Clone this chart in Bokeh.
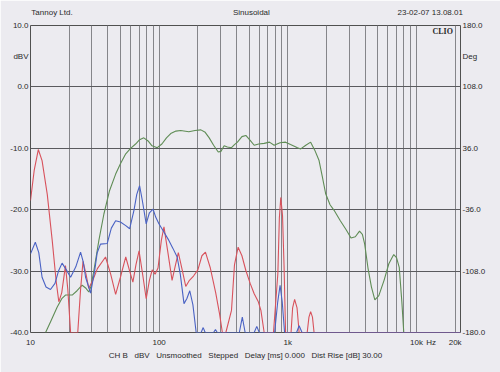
from bokeh.plotting import figure
from bokeh.models import (Range1d, LinearAxis, LogAxis, FixedTicker,
                          Label, ColumnDataSource)
from bokeh.embed import file_html
from bokeh.resources import INLINE

# ---------------- data ----------------
red_freq = [10, 10.7, 11.5, 12.3, 13.5, 14.75, 15.8, 16.6, 17.5, 18.7, 19.5, 20.5,
            23.3, 24.5, 25.6, 27.0, 28.4, 30.5, 33.1, 38.3, 42, 45.9, 50, 55, 59,
            62.5, 66, 69.8, 75, 79.3, 84, 88.3, 93, 98, 104, 109, 117, 126, 134,
            141, 150, 161, 172, 185, 200, 215, 229, 250, 275, 295, 310, 330, 365,
            385, 411, 440, 472, 510, 548, 590, 618, 655, 774, 837, 860, 882, 910,
            935, 961, 1060, 1090, 1130, 1180, 1225, 1415, 1460, 1505, 1555, 1600,
            22000]
red_dbv = [-18.5, -13.5, -10.2, -12.0, -17.5, -25.0, -31.5, -35.0, -33.5, -29.1, -33.0, -40,
           -40, -33, -28.4, -30.5, -32.8, -31.5, -29.6, -27.7, -30.5, -33.8, -31, -27.7, -30,
           -31.8, -29, -26.7, -31, -34.5, -31.5, -29.8, -30.5, -29.5, -25, -22.8, -27, -31.5, -29,
           -27.0, -29.5, -32.5, -31.5, -30.8, -29.8, -27.5, -26.9, -29.5, -33.5, -37, -40, -40, -36.4,
           -29, -26.1, -27.5, -29.9, -32, -33.7, -35, -36.4, -40, -40, -30.4, -21.3, -18.0, -21.0,
           -29.1, -40, -40, -36, -34.6, -36, -40, -40, -37.5, -36.6, -37.5, -40,
           -40]

blue_freq = [10, 10.9, 11.6, 12.3, 13.2, 14.3, 15.5, 16.5, 17.6, 19, 20.5, 22.5, 24.5,
             25.7, 26.8, 29.3, 31.5, 33, 35, 39.5, 42.5, 45.9, 50, 55, 59, 63.7, 67,
             70.5, 74, 79.3, 84, 89.7, 94, 99.6, 108, 119, 128, 138, 146, 156, 164,
             173, 183, 194, 212, 220, 228, 265, 274, 283, 420, 443, 466, 548, 574, 600,
             790, 835, 871, 905, 944, 1170, 1225, 1290, 22000]
blue_dbv = [-27.2, -25.3, -27, -31.0, -32.6, -33.0, -32, -30, -28.7, -29.8, -31.0, -29.3, -26.9,
            -28.5, -31.0, -33.6, -30, -27, -25.6, -25.5, -23, -21.8, -22.0, -22.6, -23.1, -20.1, -17.5,
            -16.1, -18.5, -22.3, -20.5, -19.9, -21.2, -22.3, -23.5, -25.0, -26.3, -27.7, -30.5, -35.3, -34.5,
            -33.2, -35.5, -40, -40, -39.2, -40, -40, -39.5, -40, -40, -37.5, -40, -40, -39.0, -40,
            -40, -35, -32.3, -35, -40, -40, -38.9, -40, -40]

green_freq = [13.1, 14.5, 16.1, 17.5, 18.7, 21.1, 23, 25.2, 27, 28.4, 29.5, 31.1, 34,
              37.2, 41, 45.9, 50, 55, 60, 65.6, 70.5, 76, 82, 88, 96.7, 105, 114, 123,
              135, 147, 170, 190, 211, 228, 245, 265, 288, 302, 320, 339, 365, 385, 406,
              440, 472, 510, 548, 594, 655, 720, 783, 870, 961, 1050, 1190, 1260, 1380,
              1505, 1620, 1750, 1850, 1970, 2130, 2290, 2560, 2850, 3100, 3350, 3610,
              3800, 3960, 4200, 4470, 4750, 5100, 5600, 6100, 6660, 7000, 7350, 7700, 7970]
green_dbv = [-40, -38, -35.9, -34.5, -33.9, -33.9, -33.2, -32.3, -32.8, -33.4, -32.5, -29.9, -25,
             -20.7, -17, -14.2, -12.5, -10.9, -10, -9.3, -8.6, -8.3, -8.8, -9.6, -9.9, -9.3, -8.3, -7.6,
             -7.2, -7.1, -7.3, -7.1, -7.0, -7.4, -8.3, -9.5, -10.6, -10.5, -9.6, -9.8, -9.9, -9.4, -9.0,
             -8.1, -7.9, -8.7, -9.5, -9.3, -9.2, -9.0, -9.5, -9.1, -9.0, -9.4, -9.9, -10.1, -9.5,
             -9.0, -10.3, -12.0, -14.5, -17.4, -19.2, -20.1, -21.8, -23.3, -24.6, -24.4, -23.5,
             -24.0, -25.6, -29.5, -32.6, -34.7, -34.0, -31.5, -28.8, -27.3, -27.8, -29.4, -35, -40]

x_major_ticks = [10, 100, 1000, 10000, 20000]
x_minor_ticks = [20, 30, 40, 50, 60, 70, 80, 90,
                 200, 300, 400, 500, 600, 700, 800, 900,
                 2000, 3000, 4000, 5000, 6000, 7000, 8000, 9000]
x_tick_labels = {10: "10", 100: "100", 1000: "1k", 10000: "10k", 13000: "Hz", 20000: "20k"}
y_ticks = [-40, -30, -20, -10, 0, 10]
y_tick_labels = {10: "10.0", 5: "dBV", 0: "0.0", -10: "-10.0", -20: "-20.0",
                 -30: "-30.0", -40: "-40.0"}
deg_tick_labels = {180: "180.0", 144: "Deg", 108: "108.0", 36: "36.0", -36: "-36.0",
                   -108: "-108.0", -180: "-180.0"}

header_labels = {14.7: "Tannoy Ltd.", 521: "Sinusoidal", 12800: "23-02-07 13.08.01"}
GAP = "\u00a0\u00a0 "
footer = GAP.join(["CH B", "dBV", "Unsmoothed", "Stepped",
                   "Delay [ms] 0.000", "Dist Rise [dB] 30.00"])
brand = "CLIO"

# ---------------- styling ----------------
BG = "#ecebf0"
TXT = "#2a2a2a"
FONT = "Liberation Sans"
FS = "8px"

p = figure(width=500, height=372, x_axis_type="log",
           x_range=Range1d(10, 22000), y_range=Range1d(-40, 10),
           output_backend="svg", toolbar_location=None,
           min_border_left=30, min_border_right=40,
           min_border_top=25, min_border_bottom=40)
p.background_fill_color = BG
p.border_fill_color = BG
p.outline_line_color = "#505050"
p.outline_line_width = 1

bottom_axis = p.below[0]
left_axis = p.left[0]

p.extra_y_ranges = {"deg": Range1d(-180, 180)}
right_axis = LinearAxis(y_range_name="deg")
p.add_layout(right_axis, "right")
top_axis = LogAxis()
p.add_layout(top_axis, "above")

bottom_axis.ticker = FixedTicker(ticks=sorted(x_tick_labels))
bottom_axis.major_label_overrides = x_tick_labels
p.xgrid.ticker = FixedTicker(ticks=x_major_ticks, minor_ticks=x_minor_ticks)
left_axis.ticker = FixedTicker(ticks=sorted(y_tick_labels))
left_axis.major_label_overrides = y_tick_labels
p.ygrid.ticker = FixedTicker(ticks=y_ticks)
right_axis.ticker = FixedTicker(ticks=sorted(deg_tick_labels))
right_axis.major_label_overrides = deg_tick_labels
top_axis.ticker = FixedTicker(ticks=sorted(header_labels))
top_axis.major_label_overrides = header_labels

for ax in [bottom_axis, left_axis, right_axis, top_axis]:
    ax.axis_line_color = None
    ax.major_tick_in = 0
    ax.major_tick_out = 0
    ax.minor_tick_in = 0
    ax.minor_tick_out = 0
    ax.major_label_text_font = FONT
    ax.major_label_text_font_size = FS
    ax.major_label_text_color = TXT
    ax.major_label_standoff = 2
bottom_axis.major_label_standoff = 5
top_axis.major_label_standoff = 9
bottom_axis.axis_label = footer
bottom_axis.axis_label_text_font = FONT
bottom_axis.axis_label_text_font_size = FS
bottom_axis.axis_label_text_font_style = "normal"
bottom_axis.axis_label_text_color = TXT
bottom_axis.axis_label_standoff = 1

p.xgrid.grid_line_color = "#85858a"
p.xgrid.minor_grid_line_color = "#85858a"
p.xgrid.grid_line_width = 1
p.xgrid.minor_grid_line_width = 1
p.ygrid.grid_line_color = "#5a5a5e"

# ---------------- curves ----------------
red = ColumnDataSource(dict(f=red_freq, v=red_dbv))
blue = ColumnDataSource(dict(f=blue_freq, v=blue_dbv))
green = ColumnDataSource(dict(f=green_freq, v=green_dbv))
p.line("f", "v", source=green, line_color="#5f8c55", line_width=1.1)
p.line("f", "v", source=red, line_color="#d8525c", line_width=1.1)
p.line("f", "v", source=blue, line_color="#4a62c4", line_width=1.1)

# ---------------- brand mark inside the frame ----------------
p.add_layout(Label(x=402, y=301, x_units="screen", y_units="screen", text=brand,
                   text_align="left", text_baseline="middle",
                   text_font="Liberation Serif", text_font_size=FS,
                   text_font_style="bold", text_color=TXT))

open("out.html", "w").write(file_html(p, INLINE))
